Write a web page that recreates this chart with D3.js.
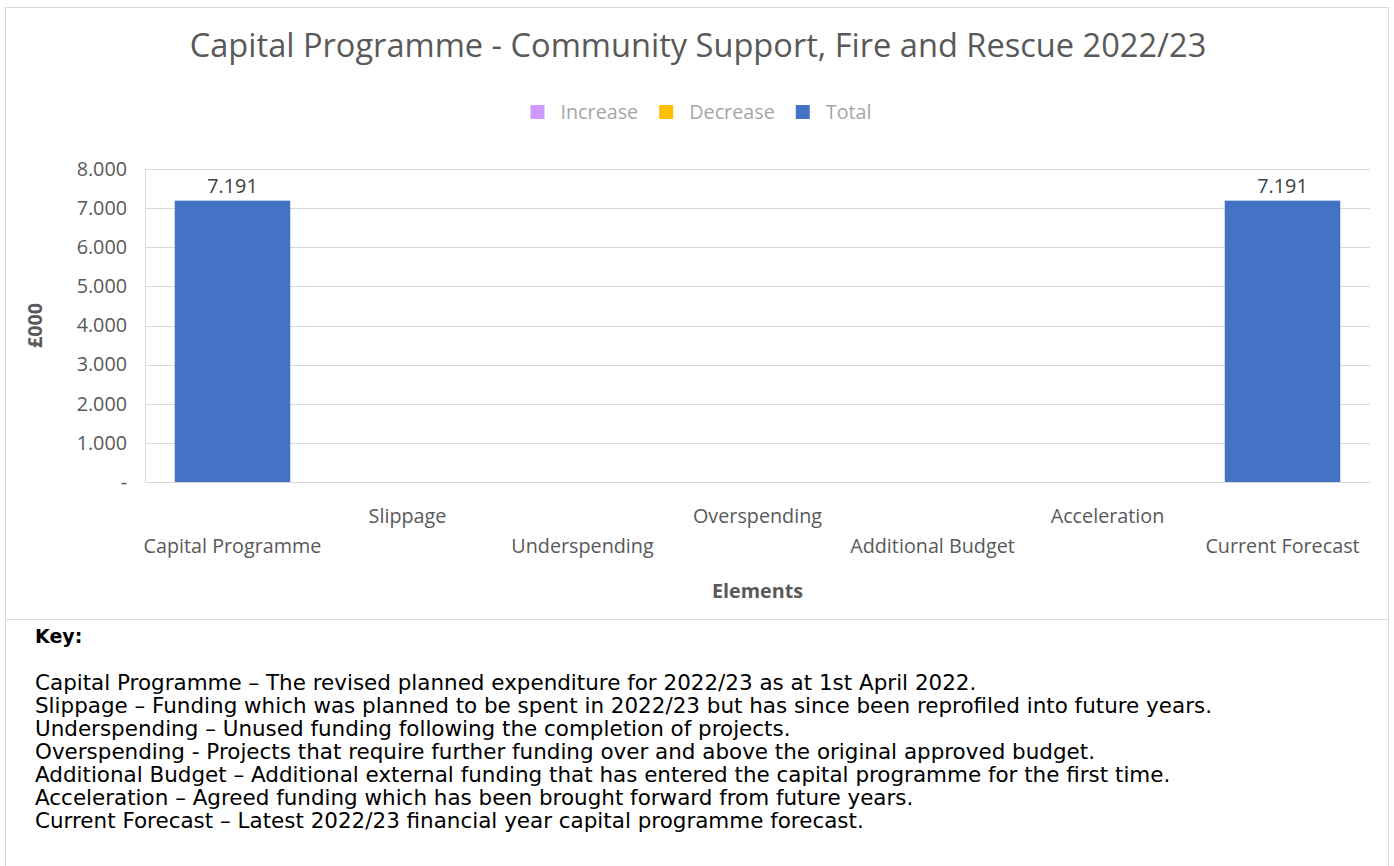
<!DOCTYPE html>
<html lang="en">
<head>
    <meta charset="UTF-8">
    <title>Capital Programme</title>
    <script src="https://d3js.org/d3.v7.min.js"></script>
    <style>
        body { margin: 0; background: #fff; }
        text { font-family: 'Open Sans', sans-serif; fill: #595959; }
        text.key { font-family: 'DejaVu Sans', Verdana, sans-serif; fill: #000; }
    </style>
</head>
<body>
<svg height="866" width="1394"></svg>
<script>
    const categories = ["Capital Programme", "Slippage", "Underspending", "Overspending",
        "Additional Budget", "Acceleration", "Current Forecast"];
    const totals = [7191, 0, 0, 0, 0, 0, 7191];
    const increases = [0, 0, 0, 0, 0, 0, 0];
    const decreases = [0, 0, 0, 0, 0, 0, 0];
    const yTicks = [0, 1000, 2000, 3000, 4000, 5000, 6000, 7000, 8000];
    const legendItems = [
        {name: "Increase", color: "#cc99ff"},
        {name: "Decrease", color: "#ffc000"},
        {name: "Total", color: "#4472c4"}
    ];
    const keyLines = [
        "Capital Programme \u2013 The revised planned expenditure for 2022/23 as at 1st April 2022.",
        "Slippage \u2013 Funding which was planned to be spent in 2022/23 but has since been reprofiled into future years.",
        "Underspending \u2013 Unused funding following the completion of projects.",
        "Overspending - Projects that require further funding over and above the original approved budget.",
        "Additional Budget \u2013 Additional external funding that has entered the capital programme for the first time.",
        "Acceleration \u2013 Agreed funding which has been brought forward from future years.",
        "Current Forecast \u2013 Latest 2022/23 financial year capital programme forecast."
    ];

    const svg = d3.select("svg");
    const margin = {left: 145, right: 1370, top: 169, bottom: 482};

    // frame lines
    svg.append("rect").attr("x", 5.5).attr("y", 7.5).attr("width", 1383).attr("height", 870)
        .attr("fill", "none").attr("stroke", "#d9d9d9");
    svg.append("line").attr("x1", 5).attr("x2", 1389).attr("y1", 619.5).attr("y2", 619.5)
        .attr("stroke", "#d9d9d9");

    // title, sized so it spans like the Calibri original
    const title = svg.append("text").attr("x", 698).attr("y", 57)
        .attr("text-anchor", "middle").style("font-size", "33px")
        .text("Capital Programme - Community Support, Fire and Rescue 2022/23");
    const ratio = 1017 / title.node().getComputedTextLength();
    title.style("font-size", (33 * ratio) + "px");
    const fs = s => (s * ratio) + "px";

    const x = d3.scaleBand().domain(categories).range([margin.left, margin.right]).paddingInner(0.34).paddingOuter(0.17);
    const y = d3.scaleLinear().domain([0, 8000]).range([margin.bottom, margin.top]);

    // gridlines
    svg.append("g").selectAll("line").data(yTicks.slice(1)).join("line")
        .attr("x1", margin.left).attr("x2", margin.right)
        .attr("y1", d => Math.round(y(d)) + 0.5).attr("y2", d => Math.round(y(d)) + 0.5)
        .attr("stroke", "#d9d9d9");
    svg.append("line").attr("x1", margin.left + 0.5).attr("x2", margin.left + 0.5)
        .attr("y1", margin.top).attr("y2", margin.bottom).attr("stroke", "#d9d9d9");

    // y axis
    const yAxis = d3.axisLeft(y).tickValues(yTicks).tickSize(0).tickPadding(18)
        .tickFormat(d => d === 0 ? "-" : d3.format(",.3f")(d / 1000).replace(",", "."));
    const gy = svg.append("g").attr("transform", `translate(${margin.left},0)`).call(yAxis);
    gy.select(".domain").remove();
    gy.selectAll("text").style("font-size", fs(20)).style("fill", "#595959")
        .style("font-family", "'Open Sans', sans-serif");

    // bars
    const stacks = categories.map((c, i) => ({c, total: totals[i], inc: increases[i], dec: decreases[i]}));
    svg.append("g").selectAll("rect").data(stacks.filter(d => d.total > 0)).join("rect")
        .attr("x", d => x(d.c)).attr("width", x.bandwidth())
        .attr("y", d => y(d.total)).attr("height", d => y(0) - y(d.total))
        .attr("fill", "#4472c4");
    svg.append("g").selectAll("text").data(stacks.filter(d => d.total > 0)).join("text")
        .attr("x", d => x(d.c) + x.bandwidth() / 2).attr("y", d => y(d.total) - 8)
        .attr("text-anchor", "middle").style("font-size", fs(20)).style("fill", "#404040")
        .text(d => d3.format(",.3f")(d.total / 1000).replace(",", "."));

    // x axis baseline
    svg.append("line").attr("x1", margin.left).attr("x2", margin.right)
        .attr("y1", margin.bottom + 0.5).attr("y2", margin.bottom + 0.5).attr("stroke", "#d9d9d9");

    // staggered category labels
    svg.append("g").selectAll("text").data(categories).join("text")
        .attr("x", d => x(d) + x.bandwidth() / 2)
        .attr("y", (d, i) => i % 2 ? 523 : 553)
        .attr("text-anchor", "middle").style("font-size", fs(20))
        .text(d => d);

    // axis titles
    svg.append("text").attr("x", (margin.left + margin.right) / 2).attr("y", 598)
        .attr("text-anchor", "middle").style("font-size", fs(20)).style("font-weight", "bold")
        .text("Elements");
    svg.append("text").attr("transform", `translate(42,${(margin.top + margin.bottom) / 2}) rotate(-90)`)
        .attr("text-anchor", "middle").style("font-size", fs(20)).style("font-weight", "bold")
        .text("£000");

    // legend
    const lg = svg.append("g");
    let lx = 0;
    legendItems.forEach(item => {
        lg.append("rect").attr("x", lx).attr("y", 105).attr("width", 14).attr("height", 14).attr("fill", item.color);
        const t = lg.append("text").attr("x", lx + 30).attr("y", 119).style("font-size", fs(20))
            .style("fill", "#a6a6a6").text(item.name);
        lx += 30 + t.node().getComputedTextLength() + 21;
    });
    lg.attr("transform", `translate(${701 - (lx - 21) / 2},0)`);

    // key
    svg.append("text").attr("class", "key").attr("x", 35).attr("y", 643)
        .style("font-size", "19px").style("font-weight", "bold").text("Key:");
    const kt = svg.append("g").selectAll("text").data(keyLines).join("text").attr("class", "key")
        .attr("x", 35).attr("y", (d, i) => 690 + i * 23).style("font-size", "19px").text(d => d);
    const kr = 942 / kt.node().getComputedTextLength();
    kt.style("font-size", (19 * kr) + "px");
</script>
</body>
</html>
